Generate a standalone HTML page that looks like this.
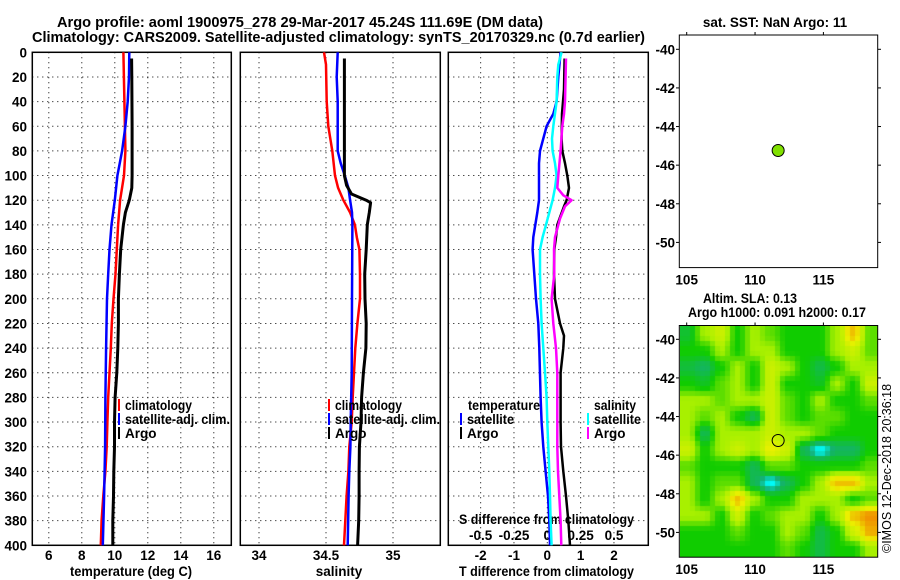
<!DOCTYPE html>
<html><head><meta charset="utf-8">
<style>
html,body{margin:0;padding:0;background:#fff;}
#wrap{position:relative;width:900px;height:580px;overflow:hidden;}
svg{position:absolute;left:0;top:0;}
text{font-family:"Liberation Sans",Arial,sans-serif;font-weight:bold;font-size:13.5px;fill:#000;}
#heat{position:absolute;left:680px;top:326px;width:198px;height:231px;}
</style></head>
<body>
<div id="wrap">
<canvas id="heat" width="198" height="231"></canvas>
<svg id="svg" width="900" height="580" xmlns="http://www.w3.org/2000/svg">
<text x="57" y="27" textLength="486" lengthAdjust="spacingAndGlyphs" style="font-size:14.5px">Argo profile: aoml 1900975_278 29-Mar-2017 45.24S 111.69E (DM data)</text>
<text x="32" y="42" textLength="613" lengthAdjust="spacingAndGlyphs" style="font-size:14.5px">Climatology: CARS2009. Satellite-adjusted climatology: synTS_20170329.nc (0.7d earlier)</text>
<text x="775" y="27" text-anchor="middle">sat. SST: NaN Argo: 11</text>
<text x="703" y="303" textLength="94" lengthAdjust="spacingAndGlyphs">Altim. SLA: 0.13</text>
<text x="688" y="317" textLength="178" lengthAdjust="spacingAndGlyphs">Argo h1000: 0.091 h2000: 0.17</text>
<text x="0" y="0" transform="translate(891,553) rotate(-90)" style="font-weight:normal;font-size:12.5px">©IMOS 12-Dec-2018 20:36:18</text>
<text x="70" y="576" textLength="122" lengthAdjust="spacingAndGlyphs">temperature (deg C)</text>
<text x="339" y="576" text-anchor="middle">salinity</text>
<text x="459" y="576" textLength="175" lengthAdjust="spacingAndGlyphs">T difference from climatology</text>
<text x="459" y="524" textLength="175" lengthAdjust="spacingAndGlyphs">S difference from climatology</text>
</svg>
</div>
<script>
// ---- data ----
const depthTicks=[0,20,40,60,80,100,120,140,160,180,200,220,240,260,280,300,320,340,360,380,400];
const tempTicks=[6,8,10,12,14,16];
const salTicks=[34,34.5,35];
const tdiffTicks=[-2,-1,0,1,2];
const sdiffTicks=[-0.5,-0.25,0,0.25,0.5];
const latTicks=[-40,-42,-44,-46,-48,-50];
const lonTicks=[105,110,115];

const climTdepth=[0,40,80,100,120,140,160,180,200,220,240,260,280,300,320,340,360,380,400];
const climT=[10.52,10.58,10.64,10.56,10.32,10.2,10.12,10.04,9.92,9.82,9.76,9.68,9.6,9.55,9.51,9.43,9.3,9.2,9.15];
const satTdepth=[0,20,40,60,80,100,120,140,160,180,200,240,280,320,360,400];
const satT=[10.88,10.86,10.78,10.64,10.44,10.16,10.0,9.8,9.68,9.6,9.53,9.47,9.43,9.41,9.35,9.27];
const argoTdepth=[5,20,60,100,110,120,130,140,160,180,200,220,240,260,280,300,320,340,360,380,400];
const argoT=[11.02,11.03,11.05,11.05,11.03,10.88,10.64,10.52,10.36,10.28,10.22,10.22,10.18,10.12,10.02,9.98,9.98,9.94,9.92,9.88,9.88];

const climSdepth=[0,10,40,60,80,100,110,120,130,140,150,160,180,200,220,240,260,280,300,320,340,360,380,400];
const climS=[34.485,34.5,34.505,34.517,34.547,34.567,34.59,34.63,34.68,34.716,34.73,34.749,34.754,34.754,34.734,34.719,34.709,34.699,34.692,34.674,34.667,34.654,34.644,34.634];
const satSdepth=[0,20,40,60,80,90,100,110,120,130,140,200,260,300,320,340,360,400];
const satS=[34.587,34.58,34.587,34.587,34.587,34.61,34.64,34.667,34.68,34.694,34.697,34.694,34.692,34.684,34.682,34.674,34.669,34.662];
const argoSdepth=[5,60,100,108,115,120,122,130,140,160,180,200,220,240,260,280,300,320,340,360,380,400];
const argoS=[34.637,34.637,34.637,34.654,34.69,34.80,34.833,34.823,34.808,34.8,34.789,34.791,34.8,34.798,34.779,34.766,34.761,34.749,34.747,34.747,34.744,34.736];

const satTdDepth=[0,20,40,50,60,70,80,90,120,130,150,160,180,200,220,240,280,300,320,340,360,380,400];
const satTd=[0.4,0.33,0.28,0.18,-0.02,-0.12,-0.22,-0.25,-0.25,-0.3,-0.42,-0.44,-0.39,-0.34,-0.27,-0.24,-0.2,-0.17,-0.12,-0.05,0.02,0.06,0.08];
const argoTdDepth=[5,30,50,70,80,90,100,110,120,125,140,150,160,180,200,220,230,240,260,280,300,320,340,360,380,400];
const argoTd=[0.52,0.5,0.44,0.43,0.45,0.53,0.6,0.65,0.58,0.5,0.3,0.26,0.21,0.2,0.23,0.38,0.5,0.48,0.4,0.4,0.4,0.41,0.48,0.56,0.63,0.68];
const satSdDepth=[0,10,20,40,60,70,80,90,100,110,120,130,140,150,160,180,200,220,240,260,280,300,320,340,360,380,400];
const satSd=[0.43,0.33,0.3,0.28,0.18,0.14,0.16,0.23,0.28,0.23,0.16,0.06,-0.04,-0.14,-0.22,-0.22,-0.2,-0.17,-0.12,-0.07,-0.02,0.0,0.03,0.06,0.08,0.1,0.13];
const argoSdDepth=[5,40,50,60,80,100,110,116,120,125,135,150,160,180,200,220,240,260,280,320,340,360,380,400];
const argoSd=[0.56,0.53,0.5,0.45,0.4,0.33,0.3,0.48,0.73,0.53,0.38,0.23,0.2,0.21,0.13,0.18,0.26,0.3,0.3,0.3,0.32,0.36,0.4,0.42];

const floatLon=111.69, floatLat=-45.24;
const slaGrid=[
[0.6,2,2.5,1,2,1.5,1,1,1,2,3.5,1.5],
[1,1,2,1,2,2,1,1,1,2,2.5,1.5],
[0.5,0.2,1,2,1,2.5,2,1,0.4,1,2,2],
[1,0.7,1.5,2,1,2.5,1,1,0.7,2,1,2.5],
[2,2,1.5,2,2,2.5,1.5,1,2,1,1,1.5],
[2,1.5,2,1,0.3,2.5,1.5,1,1.5,1.5,1,1],
[2,0.3,2,2,2,2.5,2,2,1.5,1,1,1],
[2.5,1,2,2.5,2,3,2.5,0.3,-0.6,0.2,0.2,1],
[1.5,1,1,1,0.3,1.5,1.5,1,1,1,1,1.5],
[2,1,1.5,1.5,0.3,-0.6,0.3,1,2,3.5,3.5,2],
[2,1,2,3.5,2,1,1,2,2,2,1,1.5],
[2,2,1,2.5,1,1.5,2,2,1,2,3.5,4],
[1,1,1,1.5,1,1,2,1.5,0.4,1,2.5,3.7],
[1,1,1,1,1,1,1.5,1,0.4,1,1,2]];

// ---- scales ----
const Y0=52.3, YK=1.2325;
const yD=d=>Y0+d*YK;
const xT=t=>32.3+(t-5)*16.5;
const xS=s=>259+(s-34)*134;
const xTd=t=>547.3+t*33.33;
const xSd=s=>xTd(s*4);
const xLon=l=>686.7+(l-105)*13.67;
const yLat1=l=>49.3+(-40-l)*19.31;
const yLat2=l=>339.3+(-40-l)*19.31;

const svg=document.getElementById('svg');
const NS='http://www.w3.org/2000/svg';
function mk(tag,attrs,parent){const e=document.createElementNS(NS,tag);for(const k in attrs)e.setAttribute(k,attrs[k]);(parent||svg).appendChild(e);return e;}
function txt(x,y,s,anchor,parent){const e=mk('text',{x:x,y:y,'text-anchor':anchor||'middle'},parent);e.textContent=s;return e;}

const panels=[{l:32.3,r:231.3,ticks:tempTicks,xf:xT,name:'temperature'},{l:240.3,r:440.3,ticks:salTicks,xf:xS,name:'salinity'},{l:448.3,r:648.3,ticks:tdiffTicks,xf:xTd,name:'tdiff'}];
panels.forEach((p,pi)=>{
  const g=mk('g',{});
  
  
  depthTicks.forEach(d=>{
    if(d>0&&d<400){const ln=mk('line',{x1:p.l,x2:p.r,y1:yD(d),y2:yD(d),stroke:'#000','stroke-width':1,'stroke-dasharray':'1,4'},g);
    }
    if(pi===0){const t=txt(27,yD(d)+5,String(d),'end',g);
    }
  });
  p.ticks.forEach(v=>{
    const ln=mk('line',{x1:p.xf(v),x2:p.xf(v),y1:Y0,y2:yD(400),stroke:'#000','stroke-width':1,'stroke-dasharray':'1,4'},g);
    
    const t=txt(p.xf(v),560,String(v),'middle',g);
    
  });
  const b=mk('rect',{x:p.l,y:Y0,width:p.r-p.l,height:yD(400)-Y0,fill:'none',stroke:'#000','stroke-width':1.5},g);
  
});
sdiffTicks.forEach(v=>{const t=txt(xSd(v),540,String(v),'middle');
});

function line(depths,vals,xf,color,w,name){
  const pts=depths.map((d,i)=>xf(vals[i]).toFixed(1)+','+yD(d).toFixed(1)).join(' ');
  const e=mk('polyline',{points:pts,fill:'none',stroke:color,'stroke-width':w,'stroke-linejoin':'round'});
  
  
}
line(climTdepth,climT,xT,'#ff0000',2.5,'clim-temp-line');
line(satTdepth,satT,xT,'#0000ff',2.5,'sat-temp-line');
line(argoTdepth,argoT,xT,'#000',3,'argo-temp-line');
line(climSdepth,climS,xS,'#ff0000',2.5,'clim-sal-line');
line(satSdepth,satS,xS,'#0000ff',2.5,'sat-sal-line');
line(argoSdepth,argoS,xS,'#000',3,'argo-sal-line');
line(satTdDepth,satTd,xTd,'#0000ff',2.5,'sat-tdiff-line');
line(argoTdDepth,argoTd,xTd,'#000',2.5,'argo-tdiff-line');
line(satSdDepth,satSd,xTd,'#00ffff',2.5,'sat-sdiff-line');
line(argoSdDepth,argoSd,xTd,'#ff00ff',2.5,'argo-sdiff-line');

function legend(x,y,color,label,len){
  const g=mk('g',{});
  
  
  if(color)mk('line',{x1:x,x2:x,y1:y-7,y2:y+5,stroke:color,'stroke-width':2},g);
  const t=txt(x+6,y+4,label,'start',g);
  if(len){t.setAttribute('textLength',len);t.setAttribute('lengthAdjust','spacingAndGlyphs');}
}
legend(119,406,'#ff0000','climatology',67);legend(119,420,'#0000ff','satellite-adj. clim.',105);legend(119,434,'#000','Argo');
legend(329,406,'#ff0000','climatology',67);legend(329,420,'#0000ff','satellite-adj. clim.',105);legend(329,434,'#000','Argo');
legend(462,406,null,'temperature',72);legend(461,420,'#0000ff','satellite',47);legend(461,434,'#000','Argo');
legend(588,406,null,'salinity',42);legend(588,420,'#00ffff','satellite',47);legend(588,434,'#ff00ff','Argo');

// ---- maps ----
function mapFrame(top,bot,yl,name){
  const g=mk('g',{});
  
  
  mk('rect',{x:679.3,y:top,width:198.4,height:bot-top,fill:'none',stroke:'#000','stroke-width':1},g);
  latTicks.forEach(v=>{const y=yl(v);
    mk('line',{x1:877.7,x2:881,y1:y,y2:y,stroke:'#000'},g);
    mk('line',{x1:676,x2:679.3,y1:y,y2:y,stroke:'#000'},g);
    txt(675,y+5,String(v),'end',g);});
  lonTicks.forEach(v=>{const x=xLon(v);
    mk('line',{x1:x,x2:x,y1:top-3,y2:top,stroke:'#000'},g);
    txt(x,bot+17,String(v),'middle',g);});
}
mapFrame(35,267.6,yLat1,'sst-map');
mapFrame(325.5,557.2,yLat2,'sla-map');
const dot=mk('circle',{cx:xLon(floatLon),cy:yLat1(floatLat),r:6,fill:'#80e000',stroke:'#000','stroke-width':1});


const ring=mk('circle',{cx:xLon(floatLon),cy:yLat2(floatLat),r:6,fill:'none',stroke:'#000','stroke-width':1});



// heatmap
const stops=[[-0.6,[0,255,255]],[0,[20,176,120]],[1,[16,204,0]],[2,[168,240,0]],[3,[236,240,0]],[4,[240,144,0]]];
function col(v){for(let i=1;i<stops.length;i++){if(v<=stops[i][0]){const a=stops[i-1],b=stops[i];const f=Math.max(0,(v-a[0])/(b[0]-a[0]));return a[1].map((c,k)=>Math.round(c+(b[1][k]-c)*f));}}return stops[stops.length-1][1];}
const cv=document.getElementById('heat');const ctx=cv.getContext('2d');
const R=slaGrid.length,C=slaGrid[0].length;const img=ctx.createImageData(198,231);
const B=5;
for(let py=0;py<231;py++)for(let px=0;px<198;px++){
  const qx=Math.floor(px/B)*B+B/2,qy=Math.floor(py/B)*B+B/2;
  const gx=Math.min(C-1,Math.max(0,qx/198*C-0.5)),gy=Math.min(R-1,Math.max(0,qy/231*R-0.5));
  const x0=Math.floor(gx),y0=Math.floor(gy),x1=Math.min(C-1,x0+1),y1=Math.min(R-1,y0+1);
  let fx=gx-x0,fy=gy-y0;fx=fx*fx*(3-2*fx);fy=fy*fy*(3-2*fy);
  const v=slaGrid[y0][x0]*(1-fx)*(1-fy)+slaGrid[y0][x1]*fx*(1-fy)+slaGrid[y1][x0]*(1-fx)*fy+slaGrid[y1][x1]*fx*fy;
  const c=col(v);const i=(py*198+px)*4;img.data[i]=c[0];img.data[i+1]=c[1];img.data[i+2]=c[2];img.data[i+3]=255;}
ctx.putImageData(img,0,0);
</script>
</body></html>
